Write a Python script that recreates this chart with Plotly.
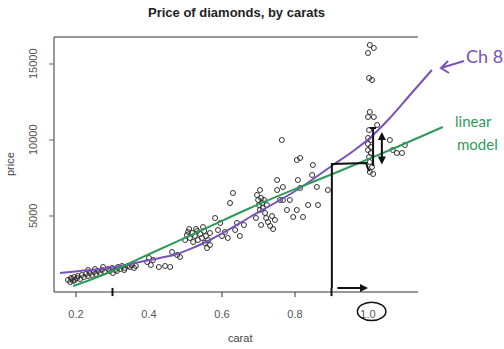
import plotly.graph_objects as go

# Diamond sample: weight (carats) and price (USD)
carat = [
    0.178, 0.184, 0.186, 0.192, 0.195, 0.189, 0.197, 0.203, 0.205, 0.211,
    0.216, 0.222, 0.227, 0.233, 0.238, 0.244, 0.249, 0.255, 0.260, 0.266,
    0.271, 0.279, 0.288, 0.293, 0.299, 0.307, 0.315, 0.321, 0.326, 0.334,
    0.342, 0.348, 0.353, 0.359, 0.364, 0.301, 0.312, 0.332, 0.252, 0.274,
    0.233,
    0.395, 0.400, 0.405, 0.411, 0.427, 0.444, 0.458, 0.463, 0.477, 0.485,
    0.499, 0.504, 0.507, 0.512, 0.518, 0.521, 0.526, 0.532, 0.534, 0.540,
    0.545, 0.551, 0.553, 0.556, 0.559, 0.562, 0.567, 0.567, 0.548, 0.529,
    0.510,
    0.581, 0.589, 0.595, 0.600, 0.608, 0.616, 0.622, 0.630, 0.636, 0.641,
    0.649, 0.660,
    0.696, 0.699, 0.701, 0.704, 0.704, 0.707, 0.710, 0.712, 0.715, 0.718,
    0.721, 0.723, 0.726, 0.732, 0.737, 0.740, 0.745, 0.707, 0.693, 0.751,
    0.759, 0.751, 0.767, 0.767, 0.778, 0.786, 0.795, 0.805, 0.808, 0.814,
    0.822, 0.764, 0.805, 0.814, 0.849, 0.847, 0.860, 0.836, 0.863, 0.890,
    1.005, 1.016, 1.000, 1.003, 1.011, 1.005, 1.000, 1.016, 1.025, 1.003,
    1.000, 1.008, 1.000, 1.008, 1.000, 1.008, 1.003, 1.005, 1.011, 1.005,
    1.014,
    1.060, 1.068, 1.079, 1.093, 1.101,
]
price = [
    790, 658, 921, 724, 987, 855, 790, 921, 1053, 855,
    1118, 987, 1184, 1053, 1250, 1118, 1316, 1184, 1382, 1250,
    1447, 1316, 1513, 1382, 1579, 1447, 1645, 1513, 1711, 1579,
    1711, 1645, 1776, 1579, 1711, 1250, 1382, 1447, 1513, 1645,
    1447,
    1974, 2237, 1776, 2105, 1645, 1711, 1645, 2632, 2434, 2303,
    3421, 3750, 3947, 3553, 3882, 3290, 3684, 4013, 3421, 3816,
    3553, 4013, 3224, 3684, 2895, 3421, 3882, 3092, 4276, 4145,
    4145,
    4868, 4079, 4540, 3684, 3947, 3553, 5855, 6513, 4079, 4540,
    3684, 4408,
    6382, 6053, 5724, 6711, 5395, 6184, 5855, 5526, 6053, 5197,
    4868, 5724, 4605, 4342, 5000, 4145, 4737, 4408, 4868, 7368,
    6053, 6711, 6908, 6053, 5395, 6053, 4934, 5395, 7368, 6842,
    4934, 10000, 8684, 8816, 8355, 7697, 6908, 5724, 5724, 6711,
    16250, 16053, 15724, 14079, 13947, 11842, 11513, 11513, 10987, 10658,
    10132, 10000, 9737, 9539, 9342, 9145, 8882, 8553, 8224, 7895,
    7763,
    10000, 9342, 9145, 9145, 9671,
]

# Fitted curves overlaid on the scatter
ch8_carat = [0.156, 0.211, 0.266, 0.321, 0.375, 0.430, 0.477, 0.526, 0.567,
             0.622, 0.677, 0.745, 0.814, 0.904, 0.956, 1.005, 1.060, 1.115, 1.175]
ch8_price = [1250, 1382, 1513, 1711, 1974, 2237, 2500, 2961, 3421,
             4145, 4934, 5855, 6842, 8355, 9211, 10132, 11447, 12961, 14605]
lin_carat = [0.192, 0.238, 0.293, 0.348, 0.395, 0.540, 0.677, 0.814, 0.923, 1.060, 1.205]
lin_price = [395, 789, 1316, 1908, 2434, 4013, 5526, 6908, 7961, 9342, 10855]

x_ticks = [0.2, 0.4, 0.6, 0.8, 1.0]
x_tick_text = ["0.2", "0.4", "0.6", "0.8", "1.0"]
x_tick_marks = [0.2, 0.6, 0.8]
x_hand_marks = [0.3, 0.9]
y_ticks = [5000, 10000, 15000]
y_tick_text = ["5000", "10000", "15000"]

X_RANGE = [0.1397, 1.2192]
Y_RANGE = [0, 16776]
X_BOX_END = 1.137   # right end of the drawn frame

PURPLE = "#7a52bb"
GREEN = "#2e9a5a"


def px(c):
    return (c - X_RANGE[0]) / (X_RANGE[1] - X_RANGE[0])


def py(v):
    return (v - Y_RANGE[0]) / (Y_RANGE[1] - Y_RANGE[0])


def paper_xy(x_pix, y_pix):
    # plot area spans pixels 54..448 horizontally and 37..292 vertically
    return (x_pix - 54) / 394, (292 - y_pix) / 255


fig = go.Figure()
fig.add_trace(go.Scatter(
    x=carat, y=price, mode="markers",
    marker=dict(symbol="circle-open", size=5, color="#333333", line=dict(width=1)),
    showlegend=False, hoverinfo="skip"))
fig.add_trace(go.Scatter(
    x=ch8_carat, y=ch8_price, mode="lines", line=dict(color=PURPLE, width=2, shape="spline"),
    showlegend=False, hoverinfo="skip"))
fig.add_trace(go.Scatter(
    x=lin_carat, y=lin_price, mode="lines", line=dict(color=GREEN, width=2, shape="spline"),
    showlegend=False, hoverinfo="skip"))

shapes = []
frame = dict(color="#333333", width=1)
box_end = px(X_BOX_END)
shapes.append(dict(type="line", xref="paper", yref="paper", x0=0, x1=0, y0=0, y1=1, line=frame))
shapes.append(dict(type="line", xref="paper", yref="paper", x0=0, x1=box_end, y0=0, y1=0, line=frame))
shapes.append(dict(type="line", xref="paper", yref="paper", x0=0, x1=box_end, y0=1, y1=1, line=frame))
for t in x_tick_marks:
    shapes.append(dict(type="line", xref="paper", yref="paper", x0=px(t), x1=px(t),
                       y0=0, y1=-0.02, line=frame))
for t in y_ticks:
    shapes.append(dict(type="line", xref="paper", yref="paper", x0=0, x1=-5 / 394,
                       y0=py(t), y1=py(t), line=dict(color="#666666", width=1)))
for t in x_hand_marks:
    shapes.append(dict(type="line", xref="paper", yref="paper", x0=px(t), x1=px(t),
                       y0=0.016, y1=-0.016, line=dict(color="#111111", width=2)))

# hand-drawn bracket marking the jump at one carat
hand = dict(color="#111111", width=2)
shapes.append(dict(type="path", xref="x", yref="y",
                   path="M 0.901,263 L 0.901,8421 L 0.995,8487 L 1.000,8100 L 1.005,7960",
                   line=hand))
shapes.append(dict(type="line", xref="x", yref="y", x0=1.014, x1=1.014, y0=8289, y1=10789, line=hand))
shapes.append(dict(type="line", xref="x", yref="y", x0=1.005, x1=1.022, y0=10789, y1=10789, line=hand))
# circle around the 1.0 label
shapes.append(dict(type="circle", xref="paper", yref="paper",
                   x0=px(1.01) - 0.036, x1=px(1.01) + 0.036, y0=-0.112, y1=-0.040,
                   line=dict(color="#111111", width=1.5)))

# arrow pointing from the "Ch 8" note to the curve
a0 = paper_xy(464, 61)
a1 = paper_xy(441, 68)
h0 = paper_xy(448, 61)
h1 = paper_xy(449, 73)
shapes.append(dict(type="path", xref="paper", yref="paper",
                   path="M {:.4f},{:.4f} L {:.4f},{:.4f} M {:.4f},{:.4f} L {:.4f},{:.4f} L {:.4f},{:.4f}".format(
                       a0[0], a0[1], a1[0], a1[1], h0[0], h0[1], a1[0], a1[1], h1[0], h1[1]),
                   line=dict(color=PURPLE, width=2)))

tx, ty = paper_xy(236, 12.5)
cx, cy = paper_xy(240, 338)
yx, yy = paper_xy(10, 164)
ch_x, ch_y = paper_xy(484, 56)
l1x, l1y = paper_xy(473, 121)
l2x, l2y = paper_xy(477, 144)
ylab_x, _ = paper_xy(33, 0)

annotations = [
    dict(text="<b>Price of diamonds, by carats</b>", xref="paper", yref="paper",
         x=tx, y=ty, showarrow=False,
         font=dict(size=13, color="#222222"), xanchor="center", yanchor="middle"),
    dict(text="carat", xref="paper", yref="paper", x=cx, y=cy,
         showarrow=False, font=dict(size=11, color="#444444"), xanchor="center", yanchor="middle"),
    dict(text="price", xref="paper", yref="paper", x=yx, y=yy,
         showarrow=False, textangle=-90, font=dict(size=11, color="#444444"),
         xanchor="center", yanchor="middle"),
    # arrows drawn by hand
    dict(x=1.038, y=10526, ax=1.038, ay=8289, xref="x", yref="y", axref="x", ayref="y",
         text="", showarrow=True, arrowhead=2, arrowside="end+start", arrowsize=0.8,
         arrowwidth=2, arrowcolor="#111111"),
    dict(x=1.000, y=263, ax=0.912, ay=263, xref="x", yref="y", axref="x", ayref="y",
         text="", showarrow=True, arrowhead=2, arrowsize=0.8, arrowwidth=2, arrowcolor="#111111"),
    dict(text="Ch 8", xref="paper", yref="paper", x=ch_x, y=ch_y,
         showarrow=False, font=dict(size=18, color=PURPLE, family="Lato"),
         xanchor="center", yanchor="middle"),
    dict(text="linear", xref="paper", yref="paper", x=l1x, y=l1y,
         showarrow=False, font=dict(size=15, color=GREEN, family="Lato"),
         xanchor="center", yanchor="middle"),
    dict(text="model", xref="paper", yref="paper", x=l2x, y=l2y,
         showarrow=False, font=dict(size=15, color=GREEN, family="Lato"),
         xanchor="center", yanchor="middle"),
]
# rotated y tick labels, R style
for v, lab in zip(y_ticks, y_tick_text):
    annotations.append(dict(text=lab, xref="paper", yref="y", x=ylab_x, y=v, showarrow=False,
                            textangle=-90, font=dict(size=11, color="#555555"),
                            xanchor="center", yanchor="middle"))

fig.update_layout(
    width=504, height=349,
    margin=dict(l=54, r=56, t=37, b=57),
    paper_bgcolor="white", plot_bgcolor="white",
    font=dict(family="Liberation Sans, Arial, sans-serif", size=11, color="#555555"),
    xaxis=dict(range=X_RANGE, tickvals=x_ticks, ticktext=x_tick_text, ticks="",
               showgrid=False, zeroline=False, showline=False, ticklabelstandoff=14,
               tickfont=dict(size=11, color="#555555")),
    yaxis=dict(range=Y_RANGE, tickvals=y_ticks, showticklabels=False, ticks="",
               showgrid=False, zeroline=False, showline=False),
    shapes=shapes, annotations=annotations,
)

fig.write_html("out.html")
